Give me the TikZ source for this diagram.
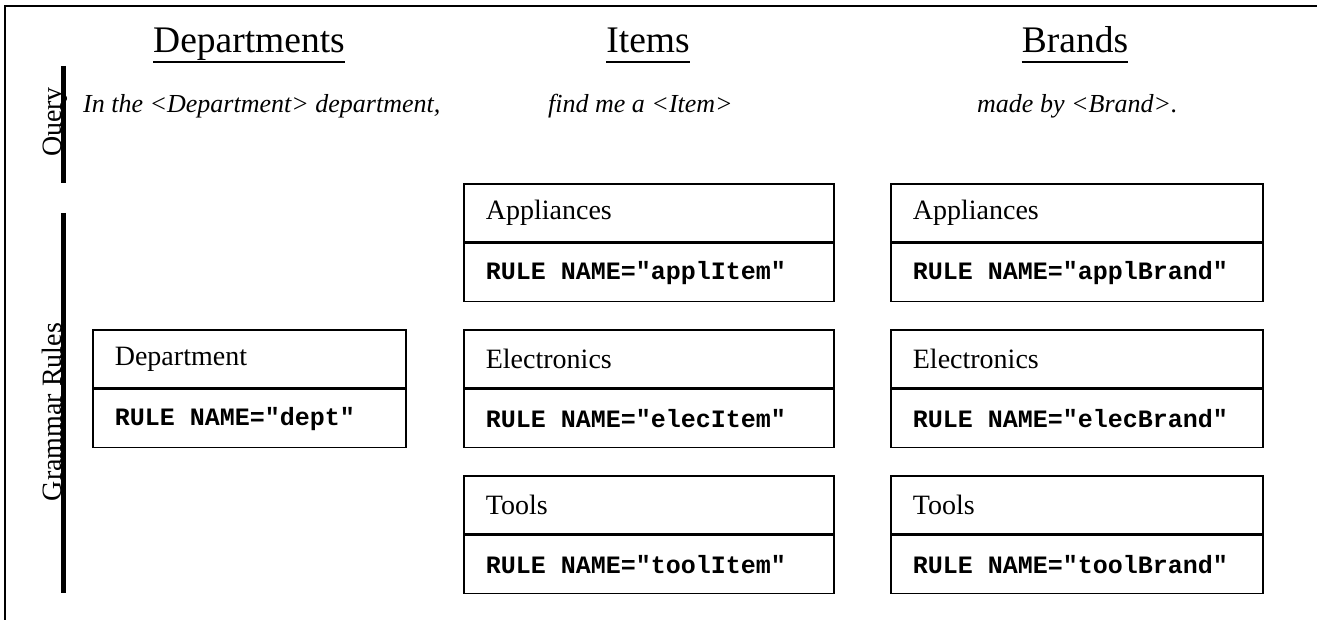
\documentclass[tikz,border=0pt]{standalone}
\usepackage{fontspec}
\setmainfont{Liberation Serif}
\setmonofont{Liberation Mono}
\usetikzlibrary{calc}
% fixed-width gap between words of a rule line
\newcommand{\rulegap}{\hspace*{0.6em}}
\begin{document}
\begin{tikzpicture}[x=1pt,y=-1pt,
  header/.style={font=\fontsize{37.5}{42}\selectfont, inner sep=0pt, anchor=base},
  query/.style={font=\fontsize{26}{30}\selectfont\itshape, inner sep=0pt, anchor=base west},
  side/.style={font=\fontsize{28}{32}\selectfont, inner sep=0pt, anchor=base, rotate=90},
  bar/.style={line width=5pt},
  cell/.style={draw, line width=1.7pt, minimum height=58pt, inner xsep=22pt, inner ysep=0pt,
    align=left, anchor=north west},
  titlecell/.style={cell, font=\fontsize{28}{32}\selectfont},
  rulecell/.style={cell, font=\fontsize{25}{29}\selectfont\ttfamily\bfseries},
  ulinestyle/.style={line width=2pt}
]
\useasboundingbox (0,0) rectangle (1317,620);

% frame
\draw[line width=2pt] (5,620) -- (5,6) -- (1317,6);

% column headers
\node[header] (hdept) at (249,53) {Departments};
\node[header] (hitem) at (648,53) {Items};
\node[header] (hbrand) at (1075,53) {Brands};
\foreach \h in {hdept,hitem,hbrand}
  \draw[ulinestyle] ($(\h.base west)+(0,9)$) -- ($(\h.base east)+(0,9)$);

% side labels and bars
\node[side] (lquery) at (61,122) {Query};
\node[side] (lrules) at (61,412) {Grammar Rules};
\draw[bar] (63,66) -- (63,183);
\draw[bar] (63,213) -- (63,593);

% query phrase
\node[query] (q1) at (83,113) {In the <Department> department,};
\node[query] (q2) at (548,113) {find me a <Item>};
\node[query] (q3) at (977,113) {made by <Brand>.};

% department rule
\node[titlecell, text width=269pt] (dt) at (92,329) {Department};
\node[rulecell, text width=269pt] (dr) at (dt.south west) {RULE\rulegap NAME="dept"};

% item rules
\node[titlecell, text width=326pt] (it1) at (463,183) {Appliances};
\node[rulecell, text width=326pt] (ir1) at (it1.south west) {RULE\rulegap NAME="applItem"};
\node[titlecell, text width=326pt] (it2) at (463,329) {Electronics};
\node[rulecell, text width=326pt] (ir2) at (it2.south west) {RULE\rulegap NAME="elecItem"};
\node[titlecell, text width=326pt] (it3) at (463,475) {Tools};
\node[rulecell, text width=326pt] (ir3) at (it3.south west) {RULE\rulegap NAME="toolItem"};

% brand rules
\node[titlecell, text width=328pt] (bt1) at (890,183) {Appliances};
\node[rulecell, text width=328pt] (br1) at (bt1.south west) {RULE\rulegap NAME="applBrand"};
\node[titlecell, text width=328pt] (bt2) at (890,329) {Electronics};
\node[rulecell, text width=328pt] (br2) at (bt2.south west) {RULE\rulegap NAME="elecBrand"};
\node[titlecell, text width=328pt] (bt3) at (890,475) {Tools};
\node[rulecell, text width=328pt] (br3) at (bt3.south west) {RULE\rulegap NAME="toolBrand"};
\end{tikzpicture}
\end{document}
